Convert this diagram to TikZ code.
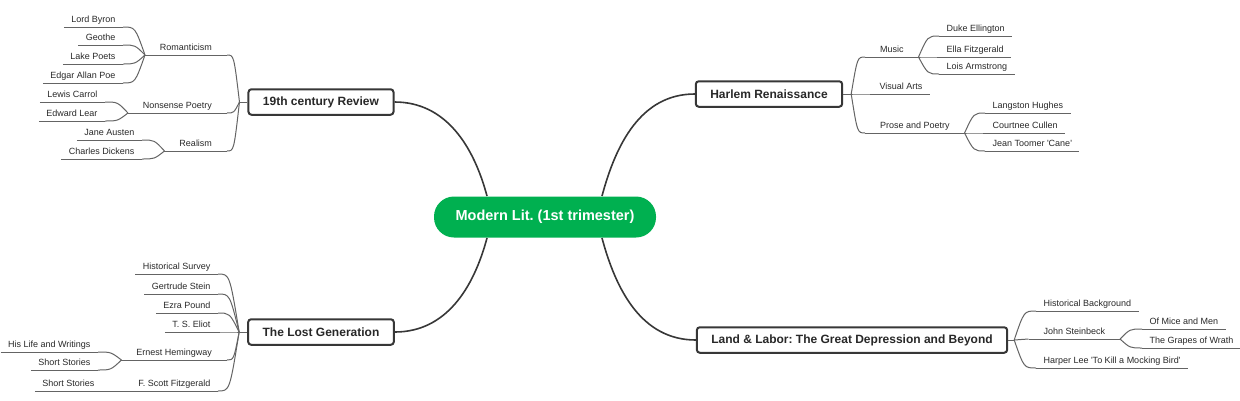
\documentclass[tikz,border=0pt]{standalone}
\usepackage{fontspec}
\setmainfont{Liberation Sans}
\usetikzlibrary{calc}
\frenchspacing

\definecolor{rootgreen}{RGB}{0,176,80}
\definecolor{boxgray}{RGB}{55,55,55}
\definecolor{linegray}{RGB}{100,100,100}
\definecolor{textgray}{RGB}{40,40,40}

\begin{document}
\begin{tikzpicture}[
  x=1pt,
  y=-1pt,
  line width=1pt,
  every node/.style={text=textgray},
  rootbox/.style={
    fill=rootgreen,
    text=white,
    rounded corners=20pt,
    minimum width=222pt,
    minimum height=41pt,
    font=\fontsize{14.5}{17}\selectfont\bfseries,
  },
  topicbox/.style={
    draw=boxgray,
    line width=2pt,
    rounded corners=3pt,
    fill=white,
    inner xsep=14.5pt,
    minimum height=25.5pt,
    font=\fontsize{12}{14}\selectfont\bfseries,
  },
  subitem/.style={inner ysep=2pt, text height=6.8pt, text depth=2pt, font=\fontsize{9}{11}\selectfont},
  subparent/.style={subitem, inner xsep=14.5pt},
  subleaf/.style={subitem, inner xsep=7pt},
  trunk/.style={draw=boxgray, line width=1.6pt},
  link/.style={draw=linegray, line width=1pt},
  branch/.style={to path={let \p1=(\tikztostart), \p2=(\tikztotarget) in
    .. controls ({0.45*\x1+0.55*\x2},\y1) .. (\tikztotarget)}},
]
\useasboundingbox (0,0) rectangle (1240,400);

% centre and main topics
\node[rootbox] (root) at (545,217) {Modern Lit. (1st trimester)};
\node[topicbox] (rev) at (321,102) {19th century Review};
\node[topicbox] (lost) at (321,332) {The Lost Generation};
\node[topicbox] (harlem) at (769,94) {Harlem Renaissance};
\node[topicbox] (land) at (852,340) {Land \& Labor: The Great Depression and Beyond};

\coordinate (rootNW) at ([xshift=-58pt]root.north);
\coordinate (rootNE) at ([xshift=57pt]root.north);
\coordinate (rootSW) at ([xshift=-58pt]root.south);
\coordinate (rootSE) at ([xshift=57pt]root.south);
\coordinate (revHub) at ([xshift=-8pt]rev.west);
\coordinate (lostHub) at ([xshift=-8pt]lost.west);
\coordinate (harlemHub) at ([xshift=8pt]harlem.east);
\coordinate (landHub) at ([xshift=6pt]land.east);

% 19th century Review
\node[subparent, anchor=south east] (roman) at (227,55) {Romanticism};
\node[subparent, anchor=south east] (nonsense) at (227,113) {Nonsense Poetry};
\node[subparent, anchor=south east] (realism) at (227,151) {Realism};
\node[subleaf, anchor=south east] (byron) at (123,27) {Lord Byron};
\node[subleaf, anchor=south east] (geothe) at (123,45) {Geothe};
\node[subleaf, anchor=south east] (lake) at (123,64) {Lake Poets};
\node[subleaf, anchor=south east] (poe) at (123,83) {Edgar Allan Poe};
\node[subleaf, anchor=south east] (carrol) at (105,102) {Lewis Carrol};
\node[subleaf, anchor=south east] (lear) at (105,121) {Edward Lear};
\node[subleaf, anchor=south east] (austen) at (142,140) {Jane Austen};
\node[subleaf, anchor=south east] (dickens) at (142,159) {Charles Dickens};

% The Lost Generation
\node[subleaf, anchor=south east] (survey) at (218,274) {Historical Survey};
\node[subleaf, anchor=south east] (gstein) at (218,294) {Gertrude Stein};
\node[subleaf, anchor=south east] (pound) at (218,313) {Ezra Pound};
\node[subleaf, anchor=south east] (eliot) at (218,332) {T. S. Eliot};
\node[subparent, anchor=south east] (heming) at (227,360) {Ernest Hemingway};
\node[subleaf, anchor=south east] (fitz) at (218,391) {F. Scott Fitzgerald};
\node[subleaf, anchor=south east] (life) at (98,352) {His Life and Writings};
\node[subleaf, anchor=south east] (storiesA) at (98,370) {Short Stories};
\node[subleaf, anchor=south east] (storiesB) at (102,391) {Short Stories};

% Harlem Renaissance
\node[subparent, anchor=south west] (music) at (865,57) {Music};
\node[subleaf, anchor=south west] (visual) at (872,94) {Visual Arts};
\node[subparent, anchor=south west] (prose) at (865,133) {Prose and Poetry};
\node[subleaf, anchor=south west] (duke) at (939,36) {Duke Ellington};
\node[subleaf, anchor=south west] (ella) at (939,57) {Ella Fitzgerald};
\node[subleaf, anchor=south west] (lois) at (939,74) {Lois Armstrong};
\node[subleaf, anchor=south west] (langston) at (985,113) {Langston Hughes};
\node[subleaf, anchor=south west] (cullen) at (985,133) {Courtnee Cullen};
\node[subleaf, anchor=south west] (toomer) at (985,151) {Jean Toomer \textquotesingle Cane\textquotesingle};

% Land & Labor
\node[subleaf, anchor=south west] (histbg) at (1036,311) {Historical Background};
\node[subparent, anchor=south west] (steinbeck) at (1028.5,339) {John Steinbeck};
\node[subleaf, anchor=south west] (harper) at (1036,368) {Harper Lee \textquotesingle To Kill a Mocking Bird\textquotesingle};
\node[subleaf, anchor=south west] (mice) at (1142,329) {Of Mice and Men};
\node[subleaf, anchor=south west] (grapes) at (1142,348) {The Grapes of Wrath};

% underlines
\foreach \n in {roman,nonsense,realism,byron,geothe,lake,poe,carrol,lear,austen,dickens,
  survey,gstein,pound,eliot,heming,fitz,life,storiesA,storiesB,
  music,visual,prose,duke,ella,lois,langston,cullen,toomer,
  histbg,steinbeck,harper,mice,grapes}
  \draw[link] (\n.south west) -- (\n.south east);

% centre to topics
\draw[trunk] (rev.east) to[out=0,in=105] (rootNW);
\draw[trunk] (harlem.west) to[out=180,in=75] (rootNE);
\draw[trunk] (lost.east) to[out=0,in=-105] (rootSW);
\draw[trunk] (land.west) to[out=180,in=-75] (rootSE);

% topics to hubs
\draw[link] (rev.west) -- (revHub);
\draw[link] (lost.west) -- (lostHub);
\draw[link] (harlem.east) -- (harlemHub);
\draw[link] (land.east) -- (landHub);

% branches, left side
\draw[link] (roman.south east) to[branch] (revHub);
\draw[link] (nonsense.south east) to[branch] (revHub);
\draw[link] (realism.south east) to[branch] (revHub);
\draw[link] (byron.south east) to[branch] (roman.south west);
\draw[link] (geothe.south east) to[branch] (roman.south west);
\draw[link] (lake.south east) to[branch] (roman.south west);
\draw[link] (poe.south east) to[branch] (roman.south west);
\draw[link] (carrol.south east) to[branch] (nonsense.south west);
\draw[link] (lear.south east) to[branch] (nonsense.south west);
\draw[link] (austen.south east) to[branch] (realism.south west);
\draw[link] (dickens.south east) to[branch] (realism.south west);
\draw[link] (survey.south east) to[branch] (lostHub);
\draw[link] (gstein.south east) to[branch] (lostHub);
\draw[link] (pound.south east) to[branch] (lostHub);
\draw[link] (eliot.south east) to[branch] (lostHub);
\draw[link] (heming.south east) to[branch] (lostHub);
\draw[link] (fitz.south east) to[branch] (lostHub);
\draw[link] (life.south east) to[branch] (heming.south west);
\draw[link] (storiesA.south east) to[branch] (heming.south west);
\draw[link] (storiesB.south east) -- (fitz.south west);

% branches, right side
\draw[link] (music.south west) to[branch] (harlemHub);
\draw[link] (visual.south west) to[branch] (harlemHub);
\draw[link] (prose.south west) to[branch] (harlemHub);
\draw[link] (duke.south west) to[branch] (music.south east);
\draw[link] (ella.south west) to[branch] (music.south east);
\draw[link] (lois.south west) to[branch] (music.south east);
\draw[link] (langston.south west) to[branch] (prose.south east);
\draw[link] (cullen.south west) to[branch] (prose.south east);
\draw[link] (toomer.south west) to[branch] (prose.south east);
\draw[link] (histbg.south west) to[branch] (landHub);
\draw[link] (steinbeck.south west) to[branch] (landHub);
\draw[link] (harper.south west) to[branch] (landHub);
\draw[link] (mice.south west) to[branch] (steinbeck.south east);
\draw[link] (grapes.south west) to[branch] (steinbeck.south east);
\end{tikzpicture}
\end{document}
